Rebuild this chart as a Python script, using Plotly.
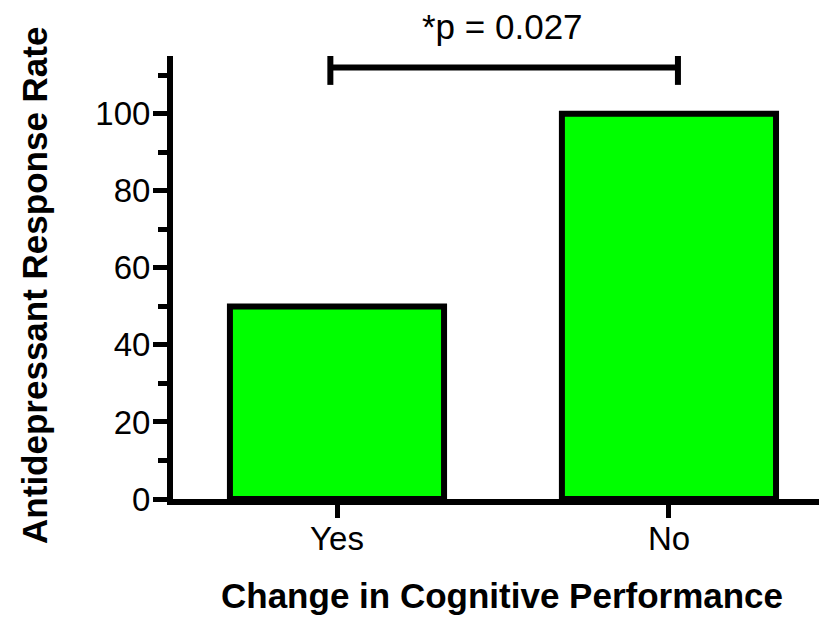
import plotly.graph_objects as go

categories = ["Yes", "No"]
response_rate = [50, 100]
y_ticks = [0, 20, 40, 60, 80, 100]
y_max = 115
p_label = "*p = 0.027"
bracket_y = 112
bracket_cap = [107.5, 116.5]

FONT = "Arial, 'Liberation Sans', Helvetica, sans-serif"
pos = list(range(len(categories)))

fig = go.Figure()
fig.add_trace(go.Bar(
    x=pos, y=response_rate, width=0.645,
    marker=dict(color="#00FF00", line=dict(color="black", width=6)),
    showlegend=False, hoverinfo="skip",
))

# significance bracket
x0, x1 = pos[0] - 0.02, pos[1] + 0.027
fig.add_trace(go.Scatter(
    x=[x0, x0, None, x0, x1, None, x1, x1],
    y=[bracket_cap[0], bracket_cap[1], None, bracket_y, bracket_y, None, bracket_cap[0], bracket_cap[1]],
    mode="lines", line=dict(color="black", width=6),
    cliponaxis=False, showlegend=False, hoverinfo="skip",
))

fig.add_annotation(
    x=(pos[0] + pos[1]) / 2, y=bracket_y, xref="x", yref="y",
    text=p_label, showarrow=False, yanchor="bottom", yshift=20,
    font=dict(family=FONT, size=35, color="black"),
)
fig.add_annotation(
    x=0.503, y=-0.218, xref="paper", yref="paper",
    text="<b>Change in Cognitive Performance</b>", showarrow=False,
    yanchor="middle", xanchor="center",
    font=dict(family=FONT, size=35, color="black"),
)
fig.add_annotation(
    x=-0.211, y=0.481, xref="paper", yref="paper",
    text="<b>Antidepressant Response Rate</b>", showarrow=False,
    textangle=-90, xanchor="center", yanchor="middle",
    font=dict(family=FONT, size=35, color="black"),
)

fig.update_layout(
    width=819, height=613,
    margin=dict(l=165, r=0, t=48, b=122),
    paper_bgcolor="white", plot_bgcolor="white",
    font=dict(family=FONT, size=33, color="black"),
    xaxis=dict(
        range=[-0.494, 1.476], tickmode="array", tickvals=pos, ticktext=categories,
        showline=True, linecolor="black", linewidth=6,
        ticks="outside", ticklen=13, tickwidth=5, tickcolor="black",
        ticklabelstandoff=-8,
        showgrid=False, zeroline=False,
    ),
    yaxis=dict(
        range=[0, y_max], tickmode="array", tickvals=y_ticks,
        showline=True, linecolor="black", linewidth=6,
        ticks="outside", ticklen=14, tickwidth=5, tickcolor="black",
        ticklabelstandoff=-4,
        minor=dict(ticks="outside", ticklen=9, tickwidth=5, tickcolor="black",
                   tick0=10, dtick=20, showgrid=False),
        showgrid=False, zeroline=False,
    ),
)

fig.write_html("out.html")
